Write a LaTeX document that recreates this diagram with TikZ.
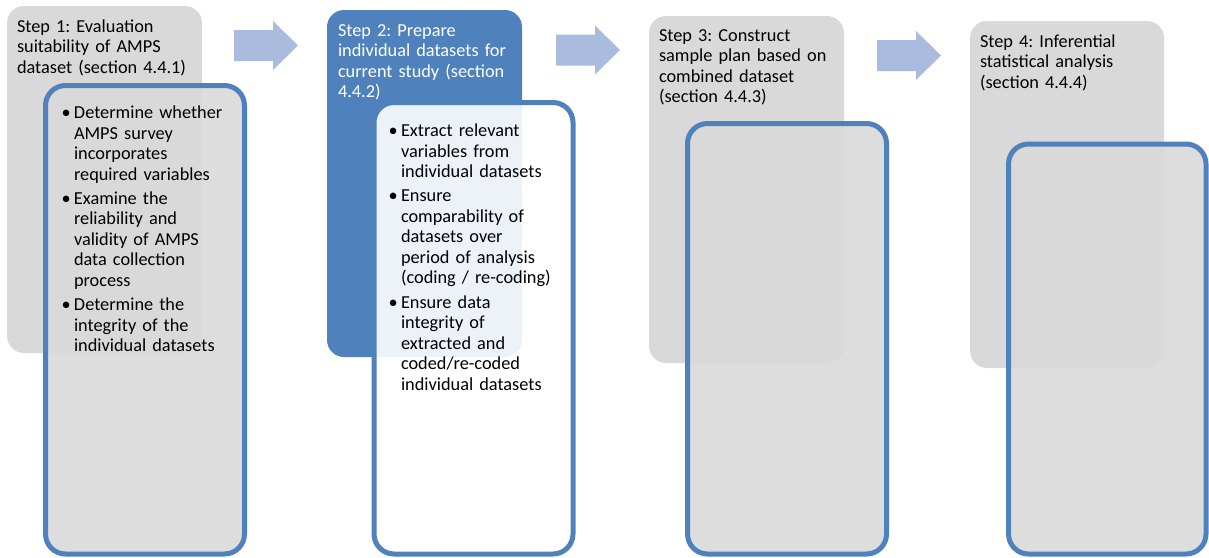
\documentclass[tikz,border=0pt]{standalone}
\usepackage{fontspec}
\setmainfont{Carlito}
\setlength\parindent{0pt}
\frenchspacing
\definecolor{boxgray}{HTML}{D9D9D9}
\definecolor{accentblue}{HTML}{4F81BD}
\definecolor{arrowblue}{HTML}{A9BCDD}
\newcommand\stepfont{\fontsize{18.3}{20.5}\selectfont\frenchspacing}
\newcommand\nl{\hfil\break}
\newcommand\bitem[1]{\par\hangindent=12.5pt\hangafter=1\noindent\makebox[12.5pt][l]{\strut•}#1\par\vskip3.75pt}

\tikzset{
  stepbox/.style={fill=boxgray, draw=none, rounded corners=17pt, anchor=north west,
    inner sep=0pt, outer sep=0pt, minimum width=195pt, minimum height=347pt},
  detailbox/.style={fill=boxgray, fill opacity=0.9, draw=accentblue, draw opacity=1,
    line width=5pt, rounded corners=20pt, anchor=north west, inner sep=0pt, outer sep=0pt,
    minimum width=199pt},
  steptext/.style={anchor=north west, inner sep=0pt, outer sep=0pt, text width=192pt,
    align=left, font=\stepfont},
  blockarrow/.pic={\fill[arrowblue] (0,-15.5) -- (39,-15.5) -- (39,-24.5) -- (64,0)
    -- (39,24.5) -- (39,15.5) -- (0,15.5) -- cycle;}
}

\begin{document}
\begin{tikzpicture}[x=1pt,y=-1pt]
\useasboundingbox (0,0) rectangle (1209,557);

% Step 1
\node[stepbox] (s1) at (7,6) {};
\node[steptext] (s1t) at (17,17.65) {\strut Step 1: Evaluation\nl suitability of AMPS\nl dataset (section 4.4.1)};
\node[detailbox, minimum height=468.5pt] (d1) at (45.5,85.5) {};
\node[steptext, text width=180pt] (d1t) at (61.5,98) {%
  \bitem{Determine whether\nl AMPS survey\nl incorporates\nl required variables}%
  \bitem{Examine the\nl reliability and\nl validity of AMPS\nl data collection\nl process}%
  \bitem{Determine the\nl integrity of the\nl individual datasets}};

\pic at (234,45.5) {blockarrow};

% Step 2
\node[stepbox, fill=accentblue] (s2) at (327,10) {};
\node[steptext, text=white] (s2t) at (338,21.65) {\strut Step 2: Prepare\nl individual datasets for\nl current study (section\nl 4.4.2)};
\node[detailbox, fill=white, minimum height=451.5pt] (d2) at (374,102.5) {};
\node[steptext, text width=180pt] (d2t) at (388.5,116.2) {%
  \bitem{Extract relevant\nl variables from\nl individual datasets}%
  \bitem{Ensure\nl comparability of\nl datasets over\nl period of analysis\nl (coding / re-coding)}%
  \bitem{Ensure data\nl integrity of\nl extracted and\nl coded/re-coded\nl individual datasets}};

\pic at (556,50) {blockarrow};

% Step 3
\node[stepbox] (s3) at (649,16) {};
\node[steptext] (s3t) at (659,26.65) {\strut Step 3: Construct\nl sample plan based on\nl combined dataset\nl (section 4.4.3)};
\node[detailbox, minimum height=430.5pt] (d3) at (687.5,123.5) {};

\pic at (877,55.5) {blockarrow};

% Step 4
\node[stepbox, minimum width=194pt] (s4) at (970,21) {};
\node[steptext] (s4t) at (980,32.65) {\strut Step 4: Inferential\nl statistical analysis\nl (section 4.4.4)};
\node[detailbox, minimum width=197.5pt, minimum height=410pt] (d4) at (1008.5,144) {};
\end{tikzpicture}
\end{document}
